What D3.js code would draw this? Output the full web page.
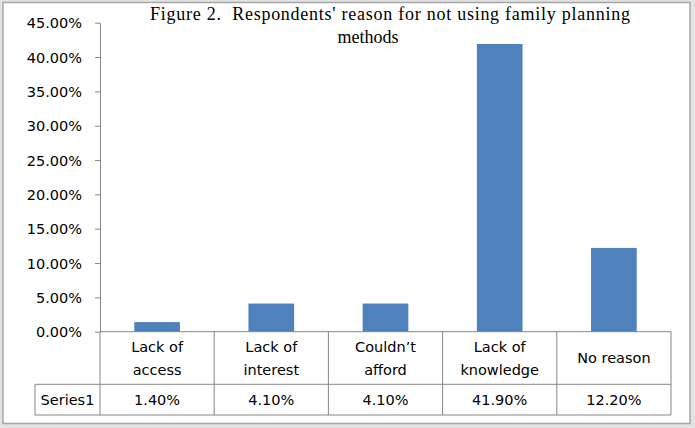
<!DOCTYPE html>
<html><head><meta charset="utf-8">
<script src="https://cdn.jsdelivr.net/npm/d3@7"></script>
<style>
html,body{margin:0;padding:0;background:#fff;}
svg{display:block;}
</style></head>
<body>
<svg id="c" width="695" height="428"></svg>
<script>
const categories = [["Lack of","access"],["Lack of","interest"],["Couldn\u2019t","afford"],["Lack of","knowledge"],["No reason"]];
const values = [0.014, 0.041, 0.041, 0.419, 0.122];
const valueLabels = ["1.40%","4.10%","4.10%","41.90%","12.20%"];
const seriesName = "Series1";
const yTicks = [0,0.05,0.10,0.15,0.20,0.25,0.30,0.35,0.40,0.45];
const titleLines = ["Figure 2.\u00a0\u00a0Respondents' reason for not using family planning","methods"];

const svg = d3.select("#c");
const sans = "DejaVu Sans, Verdana, sans-serif";
const serif = "Liberation Serif, Times New Roman, serif";

// frame
svg.append("rect").attr("x",0).attr("y",0).attr("width",695).attr("height",428).attr("fill","#e3e3e3");
svg.append("rect").attr("x",3).attr("y",2.5).attr("width",687).attr("height",421).attr("fill","#fff")
  .attr("stroke","#a6a6a6").attr("stroke-width",1.5);

const x = d3.scaleBand().domain(d3.range(categories.length)).range([100,671]).padding(0);
const y = d3.scaleLinear().domain([0,0.45]).range([331.7,22.7]);

// bars
const bw = x.bandwidth()*0.4;
svg.append("g").selectAll("rect").data(values).join("rect")
  .attr("x",(d,i)=>x(i)+x.bandwidth()/2-bw/2)
  .attr("y",d=>y(d))
  .attr("width",bw)
  .attr("height",d=>y(0)-y(d))
  .attr("fill","#4f81bd");

// y axis
const ax = svg.append("g").attr("transform","translate(100,0)")
  .call(d3.axisLeft(y).tickValues(yTicks).tickFormat(d3.format(".2%")).tickSize(5).tickSizeOuter(0));
ax.select(".domain").attr("stroke","#868686");
ax.selectAll(".tick line").attr("stroke","#868686");
ax.selectAll(".tick text").attr("font-family",sans).attr("font-size","14.5px").attr("fill","#000")
  .attr("x",-18).attr("dy","0.36em");

// table
const lc = "#868686";
const g = svg.append("g").attr("stroke",lc).attr("stroke-width",1).attr("fill","none");
const tTop = y(0), tMid = 384.3, tBot = 415;
g.append("line").attr("x1",100).attr("x2",671).attr("y1",tTop).attr("y2",tTop);
g.append("line").attr("x1",35).attr("x2",671).attr("y1",tMid).attr("y2",tMid);
g.append("line").attr("x1",35).attr("x2",671).attr("y1",tBot).attr("y2",tBot);
g.append("line").attr("x1",35).attr("x2",35).attr("y1",tMid).attr("y2",tBot);
x.domain().forEach(i=>{
  g.append("line").attr("x1",x(i)).attr("x2",x(i)).attr("y1",tTop).attr("y2",tBot);
});
g.append("line").attr("x1",671).attr("x2",671).attr("y1",tTop).attr("y2",tBot);

// category labels
const cl = svg.append("g").attr("font-family",sans).attr("font-size","14.5px").attr("fill","#000").attr("text-anchor","middle");
categories.forEach((lines,i)=>{
  const cx = x(i)+x.bandwidth()/2;
  const lh = 23;
  const mid = (tTop+tMid)/2;
  const start = mid - (lines.length-1)*lh/2;
  lines.forEach((t,j)=>{
    cl.append("text").attr("x",cx).attr("y",start+j*lh).attr("dy","0.36em").text(t);
  });
});
// value row
const vr = svg.append("g").attr("font-family",sans).attr("font-size","14.5px").attr("fill","#000").attr("text-anchor","middle");
valueLabels.forEach((t,i)=>{
  vr.append("text").attr("x",x(i)+x.bandwidth()/2).attr("y",(tMid+tBot)/2).attr("dy","0.36em").text(t);
});
vr.append("text").attr("x",(35+100)/2).attr("y",(tMid+tBot)/2).attr("dy","0.36em").text(seriesName);

// title
const tg = svg.append("g").attr("font-family",serif).attr("font-size","18px").attr("fill","#000");
tg.append("text").attr("x",150).attr("y",20).attr("textLength",480).attr("lengthAdjust","spacing").text(titleLines[0]);
tg.append("text").attr("x",368).attr("y",42.5).attr("text-anchor","middle").text(titleLines[1]);
</script>
</body></html>
